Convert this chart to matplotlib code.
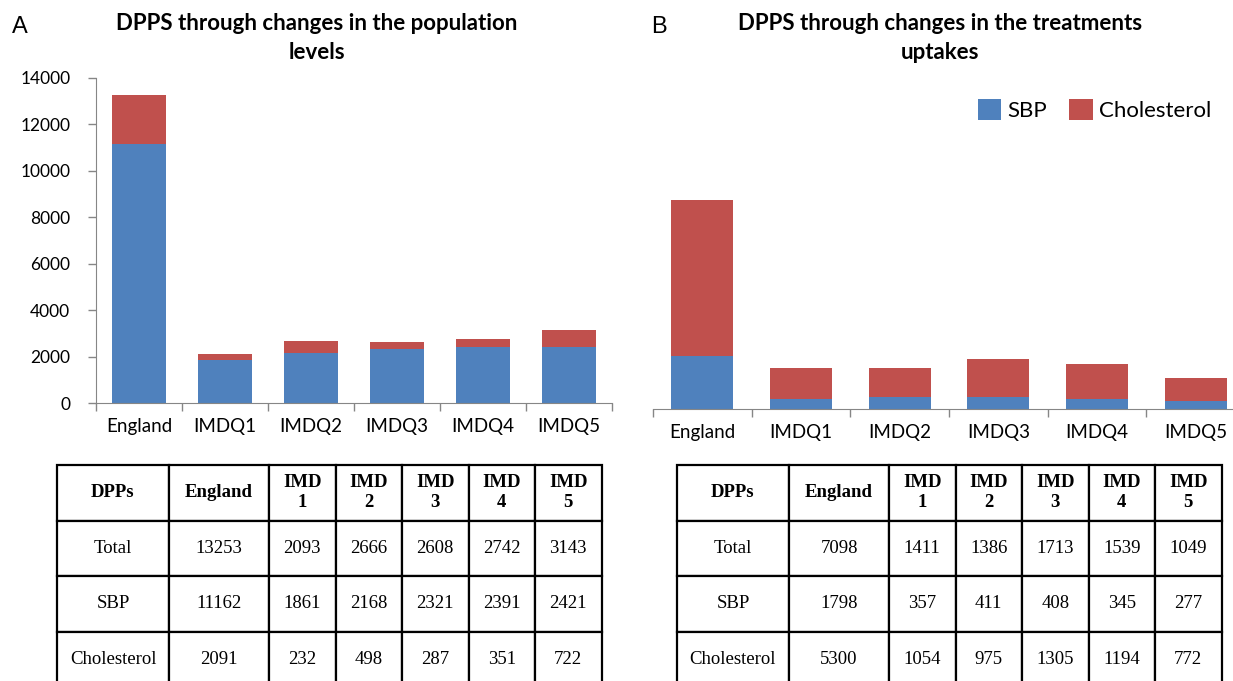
import numpy as np
import matplotlib.pyplot as plt

plt.rcParams['font.family'] = ['Lato', 'DejaVu Sans']

# data
cats = ['England', 'IMDQ1', 'IMDQ2', 'IMDQ3', 'IMDQ4', 'IMDQ5']
tab_cols = ['DPPs', 'England', 'IMD\n1', 'IMD\n2', 'IMD\n3', 'IMD\n4', 'IMD\n5']

pop_total = [13253, 2093, 2666, 2608, 2742, 3143]
pop_sbp = [11162, 1861, 2168, 2321, 2391, 2421]
pop_chol = [2091, 232, 498, 287, 351, 722]

trt_total = [7098, 1411, 1386, 1713, 1539, 1049]
trt_sbp = [1798, 357, 411, 408, 345, 277]
trt_chol = [5300, 1054, 975, 1305, 1194, 772]

BLUE = '#4F81BD'
RED = '#C0504D'
AXC = '#868686'
W, H = 1233, 681

fig = plt.figure(figsize=(W / 100, H / 100), dpi=100)


def px(x0, y0, x1, y1):
    # pixel box (top-left origin) -> figure fraction rect
    return [x0 / W, 1 - y1 / H, (x1 - x0) / W, (y1 - y0) / H]


def bars(ax, sbp, chol):
    x = np.arange(len(cats))
    ax.bar(x, sbp, width=0.63, color=BLUE, label='SBP')
    ax.bar(x, chol, width=0.63, bottom=sbp, color=RED, label='Cholesterol')
    ax.set_xlim(-0.5, len(cats) - 0.5)
    ax.set_xticks(np.arange(-0.5, len(cats)), [])
    ax.set_xticks(x, cats, minor=True)
    ax.tick_params(axis='x', which='major', length=5.5, width=1, color=AXC, direction='out')
    ax.tick_params(axis='x', which='minor', length=0, pad=11, labelsize=13.5)
    for s in ['top', 'right']:
        ax.spines[s].set_visible(False)
    ax.spines['bottom'].set_color(AXC)
    ax.spines['left'].set_color(AXC)


# panel A
axA = fig.add_axes(px(96, 78, 612, 403))
bars(axA, pop_sbp, pop_chol)
axA.set_ylim(0, 14000)
axA.set_yticks(range(0, 14001, 2000))
axA.tick_params(axis='y', length=5.5, width=1, color=AXC, labelsize=12.5, pad=13)

# panel B
axB = fig.add_axes(px(653, 174, 1245, 409))
bars(axB, trt_sbp, trt_chol)
axB.set_ylim(0, 8000)
axB.spines['left'].set_visible(False)
axB.set_yticks([])

h, l = axB.get_legend_handles_labels()
fig.legend(h, l, loc='center left', bbox_to_anchor=(962 / W, 1 - 110 / H), ncol=2,
           frameon=False, fontsize=16, handlelength=1.05, handleheight=1.1,
           handletextpad=0.3, columnspacing=1.0, borderpad=0.2)

fig.text(12 / W, 1 - 16 / H, 'A', fontsize=17, family='Liberation Sans', va='top')
fig.text(651 / W, 1 - 16 / H, 'B', fontsize=17, family='Liberation Sans', va='top')
fig.text(317 / W, 1 - 13 / H, 'DPPS through changes in the population\nlevels',
         fontsize=16, fontweight='bold', ha='center', va='top', linespacing=1.45)
fig.text(940 / W, 1 - 13 / H, 'DPPS through changes in the treatments\nuptakes',
         fontsize=16, fontweight='bold', ha='center', va='top', linespacing=1.45)

# tables
colw = [112, 100, 66.5, 66.5, 66.5, 66.5, 66.5]


def table(x0, total, sbp, chol):
    ax = fig.add_axes(px(x0, 465, x0 + sum(colw), 687))
    ax.axis('off')
    rows = [['Total'] + [str(v) for v in total],
            ['SBP'] + [str(v) for v in sbp],
            ['Cholesterol'] + [str(v) for v in chol]]
    t = ax.table(cellText=[tab_cols] + rows, colWidths=[c / sum(colw) for c in colw],
                 cellLoc='center', bbox=[0, 0, 1, 1])
    t.auto_set_font_size(False)
    for (r, c), cell in t.get_celld().items():
        cell.set_linewidth(1.6)
        cell.set_edgecolor('black')
        txt = cell.get_text()
        txt.set_fontfamily('Liberation Serif')
        txt.set_fontsize(13.5)
        if r == 0:
            txt.set_fontweight('bold')
            txt.set_linespacing(1.25)


table(57, pop_total, pop_sbp, pop_chol)
table(677, trt_total, trt_sbp, trt_chol)

fig.savefig('out.png', dpi=100)
